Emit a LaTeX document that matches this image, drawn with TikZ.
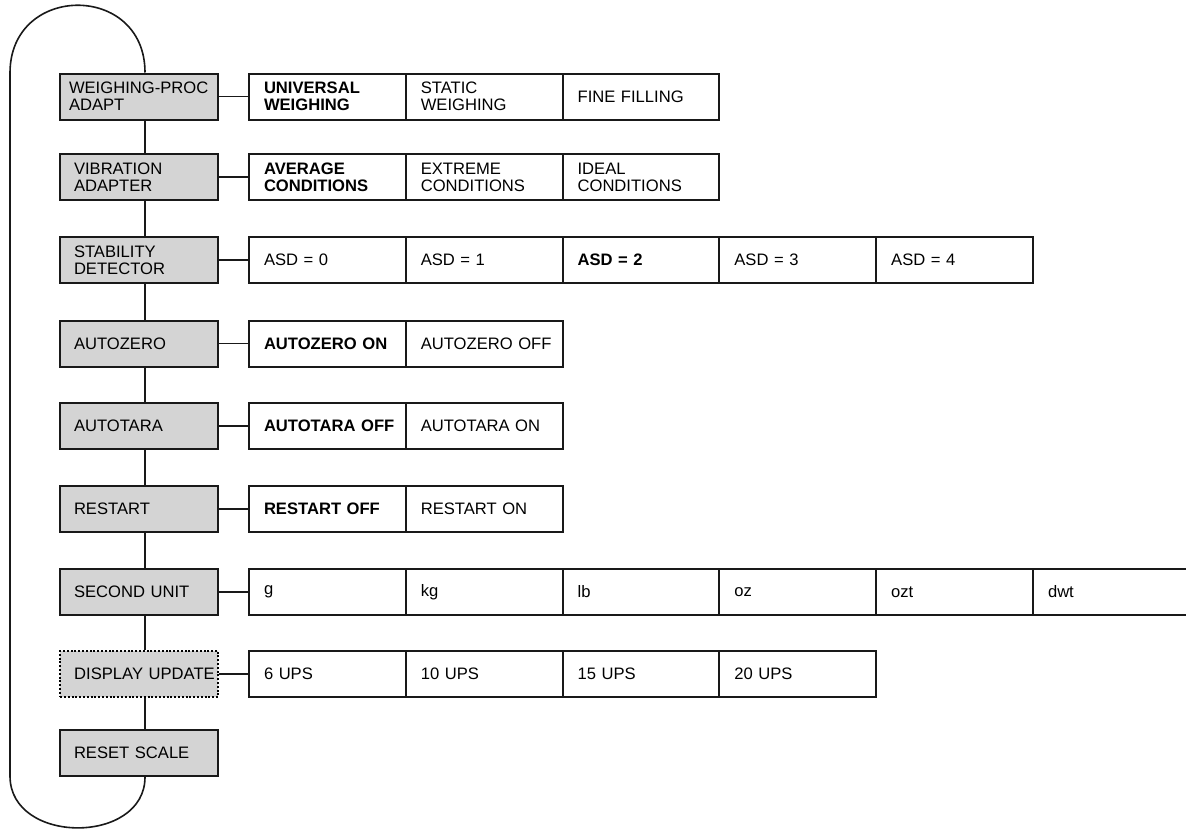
\documentclass[tikz,border=0pt]{standalone}
\usepackage{fontspec}
\setmainfont{Liberation Sans}
\usetikzlibrary{positioning,calc}

\begin{document}
\begin{tikzpicture}[x=0.5pt, y=-0.5pt,
    font=\fontsize{8.3pt}{8.4pt}\selectfont,
    every node/.style={execute at begin node={\hyphenpenalty=10000\exhyphenpenalty=10000}},
    menu/.style={draw=black!90, line width=1pt, fill=black!17, anchor=west,
        minimum width=79pt, minimum height=23pt, inner xsep=7pt, inner ysep=0pt,
        text width=65pt, align=left},
    choice/.style={draw=black!90, line width=1pt, fill=white, anchor=west,
        minimum width=78.4pt, minimum height=23pt, inner xsep=7.5pt, inner ysep=0pt,
        text width=63.4pt, align=left},
    link/.style={black!90, line width=0.55pt},
    stem/.style={black!90, line width=1pt}]

    \useasboundingbox (0,0) rectangle (1186,830);
    \clip (0,0) rectangle (1186,830);

    % Menu column
    \coordinate (spine) at (145,0);
    \node[menu, inner xsep=4.5pt, text width=70pt] (wpa) at (59,96.5) {WEIGHING-PROC\\ADAPT};
    \node[menu] (vib) at (59,177) {VIBRATION\\ADAPTER};
    \node[menu] (stab) at (59,260) {STABILITY\\DETECTOR};
    \node[menu] (azero) at (59,343.5) {AUTOZERO};
    \node[menu] (atara) at (59,426) {AUTOTARA};
    \node[menu] (restart) at (59,509) {RESTART};
    \node[menu] (unit) at (59,592) {SECOND~UNIT};
    \node[menu, draw=black, line width=1.2pt, dash pattern=on 1pt off 0.9pt] (update) at (59,674) {DISPLAY~UPDATE};
    \node[menu] (reset) at (59,753) {RESET~SCALE};

    \foreach \a/\b in {wpa/vib, vib/stab, stab/azero, azero/atara, atara/restart, restart/unit, unit/update, update/reset}
        \draw[stem] (\a.south -| spine) -- (\b.north -| spine);

    % Return loop
    \draw[black!90, line width=0.8pt] (wpa.north -| spine) .. controls +(0,-90) and (10,-17) .. (10,73)
        -- (10,776) .. controls (10,845) and (145,845) .. (reset.south -| spine);

    % Settings per menu item
    \foreach \txt [count=\i from 0] in {{\bfseries UNIVERSAL\\WEIGHING}, {STATIC\\WEIGHING}, {FINE~FILLING}}
        \node[choice] (wpa-\i) at (248+156.8*\i, 96.5) {\txt};
    \foreach \txt [count=\i from 0] in {{\bfseries AVERAGE\\CONDITIONS}, {EXTREME\\CONDITIONS}, {IDEAL\\CONDITIONS}}
        \node[choice] (vib-\i) at (248+156.8*\i, 177) {\txt};
    \foreach \txt [count=\i from 0] in {ASD~=~0, ASD~=~1, {\bfseries ASD~=~2}, ASD~=~3, ASD~=~4}
        \node[choice] (stab-\i) at (248+156.8*\i, 260) {\txt};
    \foreach \txt [count=\i from 0] in {{\bfseries AUTOZERO~ON}, AUTOZERO~OFF}
        \node[choice] (azero-\i) at (248+156.8*\i, 343.5) {\txt};
    \foreach \txt [count=\i from 0] in {{\bfseries AUTOTARA~OFF}, AUTOTARA~ON}
        \node[choice] (atara-\i) at (248+156.8*\i, 426) {\txt};
    \foreach \txt [count=\i from 0] in {{\bfseries RESTART~OFF}, RESTART~ON}
        \node[choice] (restart-\i) at (248+156.8*\i, 509) {\txt};
    \foreach \txt [count=\i from 0] in {g, kg, lb, oz, ozt, dwt}
        \node[choice] (unit-\i) at (248+156.8*\i, 592) {\txt};
    \foreach \txt [count=\i from 0] in {6~UPS, 10~UPS, 15~UPS, 20~UPS}
        \node[choice] (update-\i) at (248+156.8*\i, 674) {\txt};

    \foreach \m in {wpa, vib, stab, azero, atara, restart, unit, update}
        \draw[link] (\m.east) -- (\m-0.west);
\end{tikzpicture}
\end{document}
